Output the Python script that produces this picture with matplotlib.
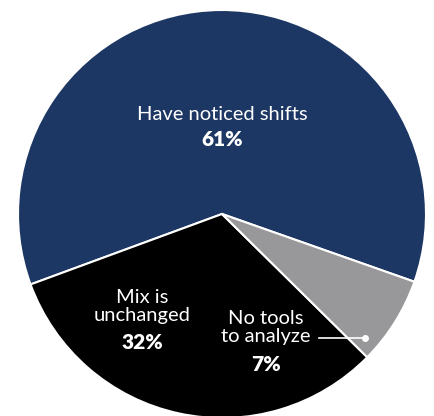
import matplotlib.pyplot as plt

# share of respondents by answer
labels = ['Have noticed shifts', 'Mix is\nunchanged', 'No tools\nto analyze']
values = [61, 32, 7]
colors = ['#1d3764', '#000000', '#98989a']

plt.rcParams['font.family'] = ['Lato', 'DejaVu Sans']

fig = plt.figure(figsize=(4.34, 4.16), dpi=100)
ax = fig.add_axes([0, 0, 1, 1])

ax.pie(values, colors=colors, startangle=-19.4, counterclock=True,
       radius=1.0, wedgeprops=dict(edgecolor='white', linewidth=1.5))
ax.set_xlim(-222 / 204, (434 - 222) / 204)
ax.set_ylim(-(416 - 214) / 204, 214 / 204)

txt = dict(color='white', ha='center', va='center', fontsize=14.5)
pct = dict(color='white', ha='center', va='center', fontsize=15, fontweight='heavy')

# big slice
ax.text(0, 0.49, labels[0], **txt)
ax.text(0, 0.365, f'{values[0]}%', **pct)

# black slice
ax.text(-0.39, -0.455, labels[1], linespacing=1.05, **txt)
ax.text(-0.39, -0.63, f'{values[1]}%', **pct)

# grey slice, label sits outside with a leader line
ax.text(0.215, -0.555, labels[2], linespacing=1.05, **txt)
ax.text(0.215, -0.74, f'{values[2]}%', **pct)
ax.plot([0.475, 0.70], [-0.61, -0.61], color='white', lw=1.2)
ax.plot([0.70], [-0.61], 'o', color='white', ms=4)

fig.savefig('out.png', dpi=100)
